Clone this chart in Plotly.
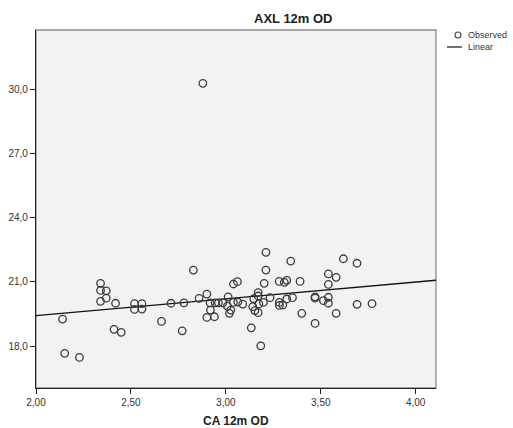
import numpy as np
import plotly.graph_objects as go

# Observed data (CA 12m OD vs AXL 12m OD)
ca = [2.140, 2.151, 2.229, 2.340, 2.340, 2.370, 2.370, 2.340, 2.419, 2.411,
      2.449, 2.519, 2.519, 2.558, 2.558, 2.711, 2.779, 2.661, 2.770, 2.829,
      2.859, 2.900, 2.919, 2.900, 2.940, 2.917, 2.944, 2.961, 2.984, 3.040,
      3.061, 3.012, 3.008, 3.026, 3.019, 3.040, 3.063, 3.089, 3.170, 3.170,
      3.147, 3.174, 3.198, 3.142, 3.153, 3.170, 3.134, 3.184, 3.211, 3.211,
      3.342, 3.202, 3.281, 3.308, 3.321, 3.391, 3.233, 3.282, 3.300, 3.282,
      3.321, 3.351, 3.470, 3.470, 3.400, 3.470, 3.619, 3.691, 3.540, 3.581,
      3.540, 3.514, 3.540, 3.540, 3.581, 3.691, 3.770, 2.879]
axl = [19.26, 17.66, 17.47, 20.93, 20.60, 20.58, 20.24, 20.09, 20.00, 18.78,
       18.64, 19.98, 19.71, 19.98, 19.73, 20.00, 20.02, 19.15, 18.71, 21.55,
       20.23, 20.43, 19.68, 19.34, 19.37, 20.02, 20.02, 20.02, 20.02, 20.90,
       21.01, 20.30, 19.87, 19.68, 19.53, 20.04, 20.06, 19.96, 20.50, 20.34,
       20.21, 19.97, 20.04, 19.84, 19.66, 19.56, 18.85, 18.01, 22.38, 21.55,
       21.97, 20.93, 21.02, 20.98, 21.07, 21.02, 20.26, 20.04, 19.92, 19.90,
       20.20, 20.26, 20.30, 20.24, 19.53, 19.06, 22.08, 21.87, 21.37, 21.21,
       20.88, 20.12, 20.28, 20.00, 19.53, 19.95, 19.98, 30.28]

x_ticks = [2.0, 2.5, 3.0, 3.5, 4.0]
x_ticklabels = ["2,00", "2,50", "3,00", "3,50", "4,00"]
y_ticks = [18.0, 21.0, 24.0, 27.0, 30.0]
y_ticklabels = ["18,0", "21,0", "24,0", "27,0", "30,0"]

x_range = [2.0, 4.107]
y_range = [16.04, 32.77]

slope, intercept = np.polyfit(ca, axl, 1)
fit_x = np.array(x_range)
fit_y = intercept + slope * fit_x

W, H = 513, 428
ml, mr, mt, mb = 36, 77, 30, 40

fig = go.Figure()
fig.add_trace(go.Scatter(
    x=fit_x, y=fit_y, mode="lines",
    line=dict(color="#111111", width=1.3),
    showlegend=False, hoverinfo="skip", cliponaxis=True))
fig.add_trace(go.Scatter(
    x=ca, y=axl, mode="markers",
    marker=dict(symbol="circle-open", size=7.5, color="#3a3a3a",
                line=dict(width=1.3, color="#3a3a3a")),
    showlegend=False))

font_family = "Liberation Sans, Arial, sans-serif"

fig.update_layout(
    width=W, height=H,
    margin=dict(l=ml, r=mr, t=mt, b=mb, pad=0, autoexpand=False),
    paper_bgcolor="white",
    plot_bgcolor="#f2f2f2",
    font=dict(family=font_family, size=10, color="#222222"),
    showlegend=False,
)

fig.update_xaxes(
    range=x_range, tickvals=x_ticks, ticktext=x_ticklabels,
    showgrid=False, zeroline=False, showline=True, linecolor="#222222",
    linewidth=1.3, ticks="outside", ticklen=5, tickcolor="#222222",
    tickfont=dict(size=10, color="#333333"), automargin=False,
)
fig.update_yaxes(
    range=y_range, tickvals=y_ticks, ticktext=y_ticklabels,
    showgrid=False, zeroline=False, showline=True, linecolor="#222222",
    linewidth=1.3, ticks="outside", ticklen=5, tickcolor="#222222",
    tickfont=dict(size=10, color="#333333"), automargin=False,
)

# gray frame (top & right)
fig.add_shape(type="rect", xref="paper", yref="paper", x0=0, y0=0, x1=1, y1=1,
              line=dict(color="#8a8a8a", width=1.3), layer="below")

pw = W - ml - mr
ph = H - mt - mb
def px_x(p):
    return (p - ml) / pw
def px_y(p):
    return 1 - (p - mt) / ph

# title
fig.add_annotation(text="<b>AXL 12m OD</b>", xref="paper", yref="paper",
                   x=px_x(293), y=px_y(19), showarrow=False,
                   xanchor="center", yanchor="middle",
                   font=dict(size=13, color="#222222"))
# x-axis title
fig.add_annotation(text="<b>CA 12m OD</b>", xref="paper", yref="paper",
                   x=0.5, y=px_y(421), showarrow=False,
                   xanchor="center", yanchor="middle",
                   font=dict(size=12, color="#222222"))

# legend
fig.add_shape(type="circle", xref="paper", yref="paper",
              x0=px_x(455), x1=px_x(461), y0=px_y(32), y1=px_y(38),
              line=dict(color="#444444", width=1.1))
fig.add_shape(type="line", xref="paper", yref="paper",
              x0=px_x(447), x1=px_x(462), y0=px_y(47), y1=px_y(47),
              line=dict(color="#222222", width=1.3))
fig.add_annotation(text="Observed", xref="paper", yref="paper",
                   x=px_x(466), y=px_y(35), showarrow=False,
                   xanchor="left", yanchor="middle",
                   font=dict(size=9, color="#333333"))
fig.add_annotation(text="Linear", xref="paper", yref="paper",
                   x=px_x(466), y=px_y(47), showarrow=False,
                   xanchor="left", yanchor="middle",
                   font=dict(size=9, color="#333333"))

fig.write_html("out.html")
